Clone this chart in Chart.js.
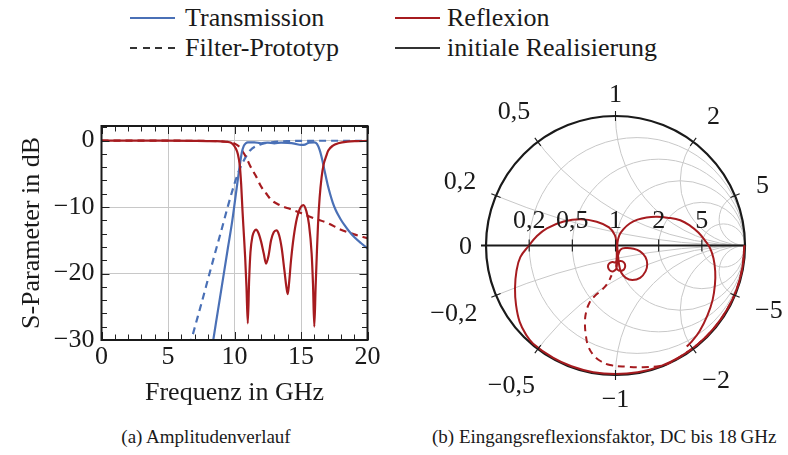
<!DOCTYPE html>
<html>
<head>
<meta charset="utf-8">
<script src="https://cdn.jsdelivr.net/npm/chart.js@4.4.1/dist/chart.umd.min.js"></script>
<style>
  html, body { margin: 0; padding: 0; background: #fff; }
  #page { position: relative; width: 788px; height: 455px; overflow: hidden;
          font-family: "Liberation Serif", "Times New Roman", serif; color: #1a1a1a; }
  .leg { position: absolute; font-size: 26px; line-height: 30px; white-space: nowrap; }
  .sw { position: absolute; width: 45px; height: 2.4px; }
  .cap { position: absolute; font-size: 19px; line-height: 22px; white-space: nowrap; }
  canvas { position: absolute; }
</style>
</head>
<body>
<div id="page">
  <!-- shared legend -->
  <div class="sw" style="left:130px; top:17px; background:#4a70b6;"></div>
  <div class="leg" style="left:185px; top:3px;">Transmission</div>
  <div class="sw" style="left:395px; top:17px; background:#a61b1f;"></div>
  <div class="leg" style="left:447px; top:3px;">Reflexion</div>
  <div class="sw" style="left:130px; top:47px; background:repeating-linear-gradient(to right,#333 0 7px,transparent 7px 12.5px);"></div>
  <div class="leg" style="left:185px; top:33px;">Filter-Prototyp</div>
  <div class="sw" style="left:395px; top:47px; background:#333;"></div>
  <div class="leg" style="left:447px; top:33px;">initiale Realisierung</div>

  <canvas id="amp" width="400" height="365" style="left:0; top:60px;"></canvas>
  <canvas id="smith" width="388" height="365" style="left:400px; top:60px;"></canvas>

  <div class="cap" style="left:56px; width:300px; text-align:center; top:426px;">(a) Amplitudenverlauf</div>
  <div class="cap" style="left:432px; top:426px;">(b) Eingangsreflexionsfaktor, DC bis 18&#8201;GHz</div>
</div>

<script>
// ---------- amplitude response (dB over GHz) ----------
const freqTicks = [0, 5, 10, 15, 20];
const dbTicks = [-30, -20, -10, 0];

// Transmission, realised filter
const transFreq = [8.2, 8.6, 9.0, 9.5, 9.8, 10.0, 10.2, 10.4, 10.55, 10.7, 10.85, 11.0, 11.5, 12.0, 12.5, 13.0,
  13.5, 14.0, 14.5, 15.0, 15.3, 15.6, 16.0, 16.2, 16.4, 16.6, 16.8, 17.0, 17.2, 17.4, 17.6, 17.8, 18.0, 18.3,
  18.6, 19.0, 19.5, 20.0];
const transDb = [-32.6, -27.5, -22.5, -16.2, -12.5, -9.6, -6.6, -3.7, -1.8, -0.8, -0.4, -0.25, -0.25, -0.4, -0.3, -0.4,
  -0.3, -0.35, -0.45, -0.65, -0.6, -0.3, -0.25, -0.5, -1.4, -2.9, -4.8, -6.6, -8.1, -9.4, -10.4, -11.2, -11.9, -12.8,
  -13.6, -14.5, -15.4, -16.2];

// Reflection, realised filter
const reflFreq = [0, 4, 7, 8.5, 9.2, 9.7, 9.9, 10.1, 10.25, 10.4, 10.5, 10.6, 10.7, 10.8, 10.9, 11.0, 11.1, 11.2,
  11.35, 11.5, 11.62, 11.8, 12.0, 12.2, 12.37, 12.55, 12.75, 12.95, 13.15, 13.35, 13.55, 13.75, 13.9, 14.0, 14.1,
  14.25, 14.45, 14.7, 14.95, 15.18, 15.4, 15.6, 15.8, 15.9, 16.0, 16.1, 16.2, 16.28, 16.4, 16.55, 16.7, 16.9,
  17.05, 17.4, 17.8, 18.5, 19.2, 20.0];
const reflDb = [0, -0.01, -0.03, -0.08, -0.15, -0.3, -0.6, -1.2, -2.0, -3.8, -6.5, -10.5, -14.0, -17.5, -22.0, -27.5,
  -21.0, -16.8, -14.4, -13.6, -13.4, -13.9, -15.2, -17.0, -18.5, -17.4, -15.0, -13.8, -13.5, -14.2, -16.2, -19.5,
  -22.0, -23.1, -21.5, -18.0, -14.5, -11.6, -10.1, -9.7, -10.6, -12.6, -17.0, -21.5, -28.0, -22.0, -16.5, -12.6,
  -8.6, -5.5, -3.6, -2.3, -1.5, -0.75, -0.4, -0.15, -0.08, -0.05];

// Filter prototype, transmission
const protoTransFreq = [6.4, 7.0, 7.5, 8.0, 8.5, 9.0, 9.5, 9.95, 10.3, 10.67, 11.17, 11.9, 12.8, 14.0, 15.5, 17.0, 20.0];
const protoTransDb = [-32.6, -28.2, -24.6, -20.9, -17.2, -13.6, -9.9, -6.8, -4.7, -3.1, -1.5, -0.6, -0.25, -0.08,
  -0.03, -0.02, -0.02];

// Filter prototype, reflection
const protoReflFreq = [0, 5, 8, 9, 9.5, 10, 10.3, 10.6, 10.9, 11.2, 11.6, 12.0, 12.4, 12.8, 13.2, 13.6, 14.2,
  15.0, 16.0, 17.0, 18.0, 19.0, 20.0];
const protoReflDb = [0, -0.01, -0.05, -0.12, -0.2, -0.45, -0.8, -1.6, -2.6, -3.9, -5.3, -6.9, -8.0, -9.0, -9.5, -9.9,
  -10.3, -10.9, -11.7, -12.4, -13.4, -14.1, -14.7];

// ---------- input reflection factor (complex plane), DC to 18 GHz ----------
const reflRe = [0.995, 0.98, 0.935, 0.86, 0.76, 0.638, 0.497, 0.34, 0.172, 0.0, -0.172, -0.34, -0.48, -0.636,
  -0.69, -0.74, -0.768, -0.776, -0.765, -0.735, -0.668, -0.61, -0.53, -0.40, -0.27, -0.145, -0.05, -0.005, 0.006,
  0.01, 0.008, 0.0, -0.025, -0.05, -0.058, -0.045, -0.02, 0.003, 0.01, 0.015, 0.04, 0.066, 0.075, 0.065, 0.04,
  0.015, 0.005, 0.012, 0.022, 0.04, 0.08, 0.14, 0.19, 0.232, 0.245, 0.232, 0.19, 0.13, 0.08, 0.045, 0.03, 0.022,
  0.016, 0.015, 0.03, 0.06, 0.11, 0.17, 0.24, 0.32, 0.40, 0.50, 0.58, 0.64, 0.69, 0.73, 0.757, 0.77, 0.768, 0.75,
  0.71, 0.65, 0.59, 0.55];
const reflIm = [0.0, -0.17, -0.34, -0.497, -0.638, -0.76, -0.86, -0.935, -0.978, -0.992, -0.978, -0.932, -0.868,
  -0.758, -0.69, -0.59, -0.46, -0.33, -0.2, -0.09, 0.0, 0.07, 0.133, 0.185, 0.203, 0.184, 0.14, 0.08, 0.02, -0.05,
  -0.11, -0.13, -0.128, -0.14, -0.165, -0.192, -0.2, -0.185, -0.16, -0.13, -0.12, -0.132, -0.158, -0.185, -0.196,
  -0.186, -0.16, -0.12, -0.07, -0.03, -0.02, -0.025, -0.045, -0.09, -0.145, -0.2, -0.25, -0.266, -0.25, -0.21,
  -0.16, -0.1, -0.04, 0.02, 0.08, 0.125, 0.17, 0.2, 0.217, 0.222, 0.215, 0.195, 0.15, 0.1, 0.04, -0.02, -0.1, -0.2,
  -0.3, -0.42, -0.54, -0.66, -0.74, -0.78];

const protoRe = [0.995, 0.98, 0.935, 0.86, 0.76, 0.638, 0.497, 0.40, 0.344, 0.212, 0.086, -0.042, -0.12, -0.171,
  -0.21, -0.228, -0.236, -0.228, -0.20, -0.16, -0.107, -0.06, -0.03];
const protoIm = [0.0, -0.17, -0.34, -0.497, -0.638, -0.76, -0.86, -0.915, -0.93, -0.94, -0.936, -0.923, -0.89,
  -0.845, -0.78, -0.70, -0.60, -0.52, -0.44, -0.39, -0.345, -0.29, -0.23];

// Smith chart grid values
const smithRes = [0.2, 0.5, 1, 2, 5];
const smithReact = [0, 0.2, 0.5, 1, 2, 5, -0.2, -0.5, -1, -2, -5];

const BLUE = '#4a70b6', RED = '#a61b1f', INK = '#1a1a1a', GRID = '#c8c8c8';
const FONT = "'Liberation Serif', 'Times New Roman', serif";

const pts = (xs, ys) => xs.map((x, i) => ({ x, y: ys[i] }));
const num = v => String(v).replace('.', ',').replace('-', '\u2212');

// ---------- left panel ----------
const frameTicks = {
  id: 'frameTicks',
  afterDatasetsDraw(chart) {
    const { ctx, chartArea: a, scales: { x, y } } = chart;
    ctx.save();
    ctx.strokeStyle = '#222';
    ctx.lineWidth = 1;
    ctx.beginPath();
    for (let f = 0; f <= 20; f += 1) {
      const px = Math.round(x.getPixelForValue(f)) + 0.5;
      const len = f % 5 === 0 ? 8 : 5.5;
      ctx.moveTo(px, a.bottom); ctx.lineTo(px, a.bottom - len);
      ctx.moveTo(px, a.top); ctx.lineTo(px, a.top + len);
    }
    for (let d = -30; d <= 2; d += 2) {
      const py = Math.round(y.getPixelForValue(d)) + 0.5;
      const len = d % 10 === 0 ? 8 : 5.5;
      ctx.moveTo(a.left, py); ctx.lineTo(a.left + len, py);
      ctx.moveTo(a.right, py); ctx.lineTo(a.right - len, py);
    }
    ctx.stroke();
    ctx.lineWidth = 2;
    ctx.strokeStyle = INK;
    ctx.strokeRect(a.left, a.top, a.right - a.left, a.bottom - a.top);
    ctx.restore();
  }
};

const lineDs = (data, color, dashed) => ({
  data, showLine: true, borderColor: color, borderWidth: 2.2, pointRadius: 0,
  borderDash: dashed ? [7, 5] : [], cubicInterpolationMode: 'monotone', fill: false
});

new Chart(document.getElementById('amp'), {
  type: 'scatter',
  data: {
    datasets: [
      lineDs(pts(reflFreq, reflDb), RED, false),
      lineDs(pts(transFreq, transDb), BLUE, false),
      lineDs(pts(protoReflFreq, protoReflDb), RED, true),
      lineDs(pts(protoTransFreq, protoTransDb), BLUE, true)
    ]
  },
  options: {
    responsive: false, animation: false, events: [],
    layout: { padding: { top: 66, right: 32.5, left: 0, bottom: 0 } },
    plugins: { legend: { display: false }, tooltip: { enabled: false } },
    scales: {
      x: {
        type: 'linear', min: 0, max: 20,
        afterBuildTicks: s => { s.ticks = freqTicks.map(v => ({ value: v })); },
        afterFit: s => { s.height = 85; },
        border: { display: false },
        grid: { drawTicks: false, lineWidth: 1,
                color: c => (c.tick && (c.tick.value === 0 || c.tick.value === 20)) ? 'rgba(0,0,0,0)' : GRID },
        ticks: { font: { family: FONT, size: 26 }, color: INK, padding: 2, maxRotation: 0, autoSkip: false,
                 callback: v => num(v) },
        title: { display: true, text: 'Frequenz in GHz', font: { family: FONT, size: 26 }, color: INK,
                 padding: { top: 0, bottom: 16 } }
      },
      y: {
        type: 'linear', min: -30, max: 2.2,
        afterBuildTicks: s => { s.ticks = dbTicks.map(v => ({ value: v })); },
        afterFit: s => { s.width = 101.5; },
        border: { display: false },
        grid: { drawTicks: false, lineWidth: 1,
                color: c => (c.tick && c.tick.value === -30) ? 'rgba(0,0,0,0)' : GRID },
        ticks: { font: { family: FONT, size: 26 }, color: INK, padding: 7, autoSkip: false,
                 callback: v => num(v) },
        title: { display: true, text: 'S-Parameter in dB', font: { family: FONT, size: 26 }, color: INK,
                 padding: { top: 17, bottom: 0 } }
      }
    }
  },
  plugins: [frameTicks]
});

// ---------- right panel: Smith chart ----------
const smithGrid = {
  id: 'smithGrid',
  beforeDatasetsDraw(chart) {
    const { ctx, scales: { x, y } } = chart;
    const cx = x.getPixelForValue(0), cy = y.getPixelForValue(0);
    const R = x.getPixelForValue(1) - cx;
    const P = (gx, gy) => [x.getPixelForValue(gx), y.getPixelForValue(gy)];
    ctx.save();
    // clip grid to the unit disk
    ctx.beginPath(); ctx.arc(cx, cy, R, 0, Math.PI * 2); ctx.clip();
    ctx.strokeStyle = GRID; ctx.lineWidth = 1;
    smithRes.forEach(r => {
      const [px, py] = P(r / (1 + r), 0);
      ctx.beginPath(); ctx.arc(px, py, R / (1 + r), 0, Math.PI * 2); ctx.stroke();
    });
    smithReact.filter(v => v !== 0).forEach(v => {
      const [px, py] = P(1, 1 / v);
      ctx.beginPath(); ctx.arc(px, py, R / Math.abs(v), 0, Math.PI * 2); ctx.stroke();
    });
    ctx.restore();

    ctx.save();
    ctx.strokeStyle = INK; ctx.lineWidth = 2.2;
    // real axis
    ctx.beginPath(); ctx.moveTo(cx - R - 5, cy); ctx.lineTo(cx + R, cy); ctx.stroke();
    // unit circle
    ctx.beginPath(); ctx.arc(cx, cy, R, 0, Math.PI * 2); ctx.stroke();
    ctx.restore();
  },
  afterDatasetsDraw(chart) {
    const { ctx, scales: { x, y } } = chart;
    const cx = x.getPixelForValue(0), cy = y.getPixelForValue(0);
    const R = x.getPixelForValue(1) - cx;
    ctx.save();
    ctx.strokeStyle = INK; ctx.lineWidth = 1.1;
    ctx.fillStyle = INK;
    ctx.font = `26px ${FONT}`;
    ctx.textAlign = 'center';
    ctx.textBaseline = 'alphabetic';
    // resistance ticks and labels on the real axis
    smithRes.forEach(r => {
      const px = x.getPixelForValue((r - 1) / (r + 1));
      ctx.beginPath(); ctx.moveTo(px, cy - 6); ctx.lineTo(px, cy + 6); ctx.stroke();
      ctx.fillText(num(r), px, cy - 18);
    });
    // reactance ticks and labels around the unit circle
    smithReact.forEach(v => {
      const gx = (v * v - 1) / (v * v + 1), gy = 2 * v / (v * v + 1);
      const dx = gx, dy = -gy;
      const px = cx + R * dx, py = cy + R * dy;
      if (v !== 0) {
        ctx.beginPath(); ctx.moveTo(px - 5 * dx, py - 5 * dy); ctx.lineTo(px + 5 * dx, py + 5 * dy); ctx.stroke();
      }
      const t = num(v);
      const hw = ctx.measureText(t).width / 2, hh = 9;
      const d = 14 + Math.abs(dx) * hw + Math.abs(dy) * hh + 18 * Math.abs(dx * dy);
      ctx.fillText(t, px + dx * d, py + dy * d + 8.6);
    });
    ctx.restore();
  }
};

const smithDs = (data, dashed) => ({
  data, showLine: true, borderColor: RED, borderWidth: 2, pointRadius: 0, tension: 0.4,
  borderDash: dashed ? [7, 5] : [], fill: false, clip: false
});

new Chart(document.getElementById('smith'), {
  type: 'scatter',
  data: { datasets: [smithDs(pts(reflRe, reflIm), false), smithDs(pts(protoRe, protoIm), true)] },
  options: {
    responsive: false, animation: false, events: [],
    layout: { padding: { left: 86, right: 43, top: 56, bottom: 50 } },
    plugins: { legend: { display: false }, tooltip: { enabled: false } },
    scales: {
      x: { type: 'linear', min: -1, max: 1, display: false },
      y: { type: 'linear', min: -1, max: 1, display: false }
    }
  },
  plugins: [smithGrid]
});
</script>
</body>
</html>
